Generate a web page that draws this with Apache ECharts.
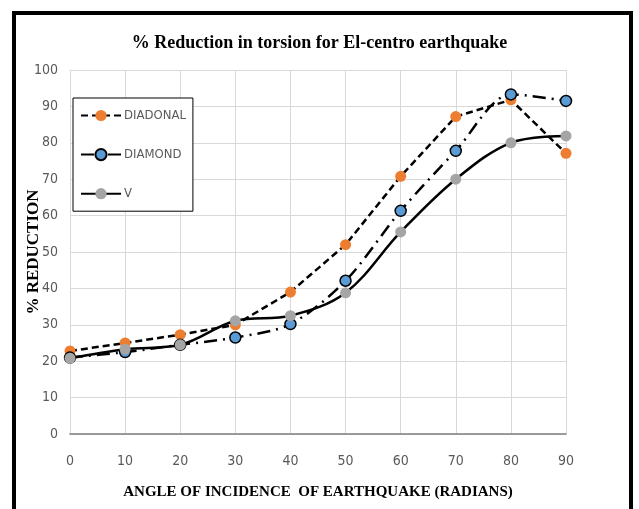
<!DOCTYPE html>
<html>
<head>
<meta charset="utf-8">
<script src="https://cdn.jsdelivr.net/npm/echarts@6/dist/echarts.min.js"></script>
<style>
html,body{margin:0;padding:0;background:#fff;}
#c{width:639px;height:509px;}
</style>
</head>
<body>
<div id="c"></div>
<script>
var angles = [0, 10, 20, 30, 40, 50, 60, 70, 80, 90];
var diadonal = [22.8, 25, 27.3, 30, 39, 52, 70.8, 87.2, 91.8, 77.1];
var diamond = [21, 22.5, 24.5, 26.5, 30.2, 42.1, 61.3, 77.8, 93.3, 91.5];
var vSeries = [20.8, 23.3, 24.5, 31.1, 32.5, 38.8, 55.5, 70, 80, 81.9];
var yTicks = [0, 10, 20, 30, 40, 50, 60, 70, 80, 90, 100];

function pairs(arr){ return angles.map(function(a,i){ return [a, arr[i]]; }); }

var labelFont = '"DejaVu Sans Condensed", "Liberation Sans", Arial, sans-serif';
var serif = '"Liberation Serif", "Times New Roman", serif';

var chart = echarts.init(document.getElementById('c'), null, {renderer:'canvas'});
chart.setOption({
  animation: false,
  backgroundColor: '#fff',
  title: {
    text: '% Reduction in torsion for El-centro earthquake',
    left: 'center',
    top: 29,
    textStyle: { fontFamily: serif, fontWeight: 'bold', fontSize: 18, color: '#000' }
  },
  graphic: [{
    type: 'rect',
    shape: { x: 14, y: 13, width: 617, height: 520 },
    style: { fill: 'none', stroke: '#000', lineWidth: 4 },
    silent: true
  }],
  grid: { left: 70, right: 73, top: 70, bottom: 75 },
  legend: {
    orient: 'vertical',
    left: 73,
    top: 98,
    padding: [11, 7, 11, 7],
    itemGap: 26,
    itemWidth: 40,
    itemHeight: 14,
    borderColor: '#000',
    borderWidth: 1,
    backgroundColor: '#fff',
    textStyle: { fontFamily: labelFont, fontSize: 13, color: '#595959', padding: [0,0,0,-2] },
    data: ['DIADONAL', 'DIAMOND', 'V']
  },
  xAxis: {
    type: 'value',
    min: 0, max: 90, interval: 10,
    name: 'ANGLE OF INCIDENCE  OF EARTHQUAKE (RADIANS)',
    nameLocation: 'middle',
    nameGap: 51,
    nameMoveOverlap: false,
    nameTextStyle: { fontFamily: serif, fontWeight: 'bold', fontSize: 15, color: '#000' },
    axisLine: { show: true, lineStyle: { color: '#7f7f7f', width: 1.5 } },
    axisTick: { show: false },
    axisLabel: { fontFamily: labelFont, fontSize: 14, color: '#595959', margin: 20 },
    splitLine: { show: true, lineStyle: { color: '#d9d9d9', width: 1 } }
  },
  yAxis: {
    type: 'value',
    min: 0, max: 100, interval: 10,
    name: '% REDUCTION',
    nameLocation: 'middle',
    nameGap: 28,
    nameMoveOverlap: false,
    nameTextStyle: { fontFamily: serif, fontWeight: 'bold', fontSize: 17, color: '#000' },
    axisLine: { show: false },
    axisTick: { show: false },
    axisLabel: {
      fontFamily: labelFont, fontSize: 14, color: '#595959', margin: 12,
      formatter: function(v){ return yTicks.indexOf(v) >= 0 ? String(v) : ''; }
    },
    splitLine: { show: true, lineStyle: { color: '#d9d9d9', width: 1 } }
  },
  series: [
    {
      name: 'DIADONAL',
      type: 'line',
      data: pairs(diadonal),
      symbol: 'circle',
      symbolSize: 11,
      itemStyle: { color: '#ED7D31', borderWidth: 0 },
      lineStyle: { color: '#000', width: 2.5, type: [7, 4] },
      z: 2
    },
    {
      name: 'DIAMOND',
      type: 'line',
      data: pairs(diamond),
      smooth: 0.3,
      symbol: 'circle',
      symbolSize: 11,
      itemStyle: { color: '#5B9BD5', borderColor: '#000', borderWidth: 1.5 },
      lineStyle: { color: '#000', width: 2.5, type: [13, 6, 2, 6] },
      z: 3
    },
    {
      name: 'V',
      type: 'line',
      data: pairs(vSeries),
      smooth: 0.35,
      symbol: 'circle',
      symbolSize: 11,
      itemStyle: { color: '#A5A5A5', borderWidth: 0 },
      lineStyle: { color: '#000', width: 2.5, type: 'solid' },
      z: 4
    }
  ]
});
</script>
</body>
</html>
